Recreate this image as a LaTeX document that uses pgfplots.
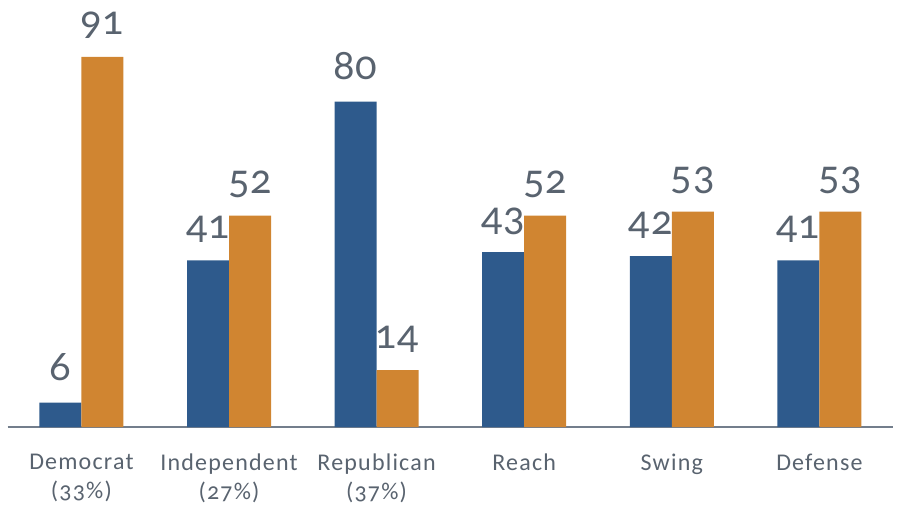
\documentclass[border=0pt]{standalone}
\usepackage{fontspec}
\setmainfont{Carlito}[Numbers=OldStyle]
\newfontfamily\numfont{Lato}[Numbers=OldStyle]
\usepackage{pgfplots}
\pgfplotsset{compat=1.18}
\definecolor{cblue}{HTML}{2E5A8C}
\definecolor{corange}{HTML}{D08531}
\definecolor{ctext}{HTML}{59636F}
\definecolor{caxis}{HTML}{737E8C}
\begin{document}
\begin{tikzpicture}
\begin{axis}[
  at={(0pt,0pt)}, anchor=south west,
  scale only axis,
  width=885.6pt, height=406.6pt,
  xmin=-0.5, xmax=5.5, ymin=0, ymax=100,
  ybar=0pt, bar width=42pt,
  axis y line=none,
  axis x line*=bottom,
  x axis line style={caxis, line width=1.5pt, -},
  xtick=data,
  xtick style={draw=none},
  xticklabels={Democrat\\(33\%),Independent\\(27\%),Republican\\(37\%),Reach,Swing,Defense},
  xticklabel style={font=\fontsize{24}{29}\selectfont\addfontfeature{LetterSpace=5}, text=ctext, align=center, anchor=north, yshift=-19pt},
  point meta=explicit symbolic,
  nodes near coords={\pgfplotspointmeta},
  every node near coord/.append style={font=\numfont\fontsize{40}{40}\selectfont\addfontfeature{LetterSpace=2}, text=ctext, anchor=base, yshift=22pt},
  clip=false,
]
\addplot[fill=cblue, draw=none] coordinates {(0,6)[6] (1,41)[41] (2,80)[80] (3,43)[43] (4,42)[42] (5,41)[41]};
\addplot[fill=corange, draw=none] coordinates {(0,91)[91] (1,52)[52] (2,14)[14] (3,52)[52] (4,53)[53] (5,53)[53]};
\end{axis}
\pgfresetboundingbox
\path[use as bounding box] (-7.6pt,-85pt) rectangle ++(897pt,512pt);
\end{tikzpicture}
\end{document}
